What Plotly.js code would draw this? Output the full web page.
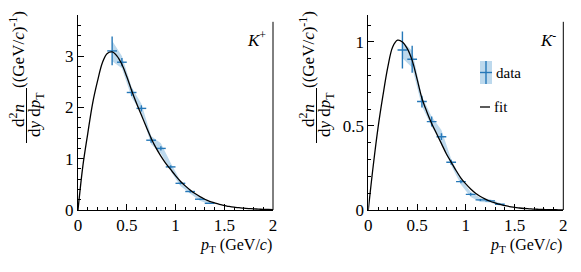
<!DOCTYPE html>
<html>
<head>
<meta charset="utf-8">
<script src="https://cdn.plot.ly/plotly-3.0.1.min.js"></script>
</head>
<body style="margin:0">
<div id="chart" style="width:581px;height:272px"></div>
<script>
// ---- data ----
const ptBins = [0.35, 0.45, 0.55, 0.65, 0.75, 0.85, 0.95, 1.05, 1.15, 1.25, 1.35];
const binHalfWidth = [0.05, 0.05, 0.05, 0.05, 0.05, 0.05, 0.05, 0.05, 0.05, 0.05, 0.05];

const kPlusY    = [3.10, 2.88, 2.29, 1.98, 1.36, 1.20, 0.84, 0.52, 0.36, 0.21, 0.13];
const kPlusStat = [0.28, 0.08, 0.07, 0.06, 0.05, 0.04, 0.03, 0.02, 0.02, 0.01, 0.01];
const kPlusSys  = [0.20, 0.12, 0.10, 0.09, 0.08, 0.10, 0.08, 0.05, 0.04, 0.03, 0.02];

const kMinusY    = [0.952, 0.897, 0.645, 0.526, 0.436, 0.284, 0.169, 0.093, 0.060, 0.054, 0.034];
const kMinusStat = [0.110, 0.080, 0.035, 0.030, 0.020, 0.015, 0.010, 0.008, 0.006, 0.005, 0.004];
const kMinusSys  = [0.050, 0.050, 0.030, 0.030, 0.040, 0.020, 0.018, 0.015, 0.012, 0.010, 0.008];

const fitPt = [0, 0.05, 0.1, 0.15, 0.2, 0.25, 0.3, 0.35, 0.4, 0.45, 0.5, 0.55, 0.6, 0.65, 0.7,
  0.75, 0.8, 0.85, 0.9, 0.95, 1.0, 1.05, 1.1, 1.15, 1.2, 1.25, 1.3, 1.35, 1.4, 1.45, 1.5,
  1.55, 1.6, 1.65, 1.7, 1.75, 1.8, 1.85, 1.9, 1.95, 2.0];
const fitKPlus = [0.0, 0.86, 1.49, 2.08, 2.51, 2.87, 3.05, 3.08, 3.00, 2.84, 2.60, 2.33, 2.08,
  1.85, 1.62, 1.40, 1.21, 1.05, 0.91, 0.79, 0.67, 0.56, 0.47, 0.39, 0.32, 0.26, 0.21, 0.17,
  0.14, 0.11, 0.09, 0.07, 0.055, 0.045, 0.035, 0.028, 0.022, 0.017, 0.013, 0.010, 0.008];
const fitKMinus = [0.0, 0.26, 0.49, 0.68, 0.85, 0.97, 1.01, 1.00, 0.96, 0.89, 0.78, 0.665, 0.585,
  0.515, 0.455, 0.395, 0.335, 0.285, 0.235, 0.19, 0.155, 0.125, 0.10, 0.08, 0.065, 0.052, 0.042,
  0.033, 0.026, 0.020, 0.016, 0.012, 0.009, 0.007, 0.005, 0.004, 0.003, 0.002, 0.002, 0.001, 0.001];

const xTickVals = [0, 0.5, 1, 1.5, 2];
const xTickText = ['0', '0.5', '1', '1.5', '2'];
const yTickValsKp = [0, 1, 2, 3];
const yTickValsKm = [0, 0.5, 1];
const legendLabels = ['data', 'fit'];
const panelLabels = ['<i>K</i><sup>+</sup>', '<i>K</i><sup>-</sup>'];

// ---- styling ----
const BLUE = 'rgb(38,120,184)';
const BAND = 'rgba(90,160,210,0.40)';
const FONT = 'Liberation Serif';

function bandTraces(y, sys, xa, ya) {
  const up = y.map((v, i) => v + sys[i]);
  const lo = y.map((v, i) => v - sys[i]);
  return [
    {x: ptBins, y: lo, xaxis: xa, yaxis: ya, mode: 'lines', line: {width: 0, color: BAND},
     hoverinfo: 'skip', showlegend: false},
    {x: ptBins, y: up, xaxis: xa, yaxis: ya, mode: 'lines', line: {width: 0, color: BAND},
     fill: 'tonexty', fillcolor: BAND, hoverinfo: 'skip', showlegend: false}
  ];
}
function dataTrace(y, stat, xa, ya) {
  return {x: ptBins, y: y, xaxis: xa, yaxis: ya, mode: 'markers',
    marker: {size: 1, color: BLUE},
    error_y: {type: 'data', array: stat, visible: true, color: BLUE, thickness: 1.4, width: 0},
    error_x: {type: 'data', array: binHalfWidth, visible: true, color: BLUE, thickness: 1.4, width: 0},
    showlegend: false};
}
function fitTrace(y, xa, ya) {
  return {x: fitPt, y: y, xaxis: xa, yaxis: ya, mode: 'lines', line: {color: '#000', width: 1.3, shape: 'spline'},
    showlegend: false};
}

const traces = [
  ...bandTraces(kPlusY, kPlusSys, 'x', 'y'),
  dataTrace(kPlusY, kPlusStat, 'x', 'y'),
  fitTrace(fitKPlus, 'x', 'y'),
  ...bandTraces(kMinusY, kMinusSys, 'x2', 'y2'),
  dataTrace(kMinusY, kMinusStat, 'x2', 'y2'),
  fitTrace(fitKMinus, 'x2', 'y2')
];

const W = 581, H = 272;
const yDom = [(H - 210) / H, (H - 15) / H];
function xAxis(dom, anchor) {
  return {domain: dom, anchor: anchor, range: [0, 2], showgrid: false, zeroline: false,
    showline: true, linecolor: '#000', linewidth: 1, mirror: false,
    ticks: 'inside', ticklen: 6, tickcolor: '#000', tickwidth: 1,
    tickvals: xTickVals, ticktext: xTickText,
    tickfont: {family: FONT, size: 17, color: '#000'},
    minor: {ticks: 'inside', ticklen: 3, dtick: 0.1, tickcolor: '#000', showgrid: false}};
}
function yAxis(range, vals, minorD, anchor) {
  return {domain: yDom, anchor: anchor, range: range, showgrid: false, zeroline: false,
    showline: true, linecolor: '#000', linewidth: 1, mirror: false,
    ticks: 'inside', ticklen: 6, tickcolor: '#000', tickwidth: 1,
    tickvals: vals, ticktext: vals.map(String),
    tickfont: {family: FONT, size: 17, color: '#000'},
    minor: {ticks: 'inside', ticklen: 3, dtick: minorD, tickcolor: '#000', showgrid: false}};
}

const xL = 78, xR = 368.3;
const annotations = [];
const shapes = [];
[0, 1].forEach(k => {
  const off = k === 0 ? 0 : 290;
  const xs = k === 0 ? 'x' : 'x2';
  const ys = k === 0 ? 'y' : 'y2';
  shapes.push({type: 'line', xref: xs + ' domain', yref: ys + ' domain', x0: 1, x1: 1, y0: 0, y1: 0.965,
    line: {color: '#000', width: 1}});
  shapes.push({type: 'line', xref: 'paper', yref: 'paper', x0: (26.5 + off) / W, x1: (26.5 + off) / W,
    y0: (H - 88) / H, y1: (H - 143) / H, line: {color: '#000', width: 1}});
  annotations.push({xref: 'paper', yref: 'paper', x: (17 + off) / W, y: (H - 116) / H,
    text: 'd<sup>2</sup><i>n</i>', textangle: -90, showarrow: false,
    xanchor: 'center', yanchor: 'middle', font: {family: FONT, size: 17, color: '#000'}});
  annotations.push({xref: 'paper', yref: 'paper', x: (36 + off) / W, y: (H - 115) / H,
    text: 'd<i>y</i> d<i>p</i><sub>T</sub>', textangle: -90, showarrow: false,
    xanchor: 'center', yanchor: 'middle', font: {family: FONT, size: 17, color: '#000'}});
  annotations.push({xref: 'paper', yref: 'paper', x: (17 + off) / W, y: (H - 50) / H,
    text: '((GeV/<i>c</i>)<sup>-1</sup>)', textangle: -90, showarrow: false,
    xanchor: 'center', yanchor: 'middle', font: {family: FONT, size: 17, color: '#000'}});
  annotations.push({xref: 'paper', yref: 'paper', x: (274 + off) / W, y: (H - 245) / H,
    text: '<i>p</i><sub>T</sub> (GeV/<i>c</i>)', showarrow: false,
    xanchor: 'right', yanchor: 'middle', font: {family: FONT, size: 16, color: '#000'}});
  annotations.push({xref: 'paper', yref: 'paper', x: (268 + off) / W, y: (H - 39) / H,
    text: panelLabels[k], showarrow: false,
    xanchor: 'right', yanchor: 'middle', font: {family: FONT, size: 17, color: '#000'}});
});

shapes.push({type: 'rect', xref: 'paper', yref: 'paper', x0: 480 / W, x1: 492 / W, y0: (H - 61) / H, y1: (H - 84) / H,
  fillcolor: BAND, line: {width: 0}});
shapes.push({type: 'line', xref: 'paper', yref: 'paper', x0: 486 / W, x1: 486 / W, y0: (H - 61) / H, y1: (H - 84) / H,
  line: {color: BLUE, width: 1.4}});
shapes.push({type: 'line', xref: 'paper', yref: 'paper', x0: 480 / W, x1: 492 / W, y0: (H - 72.5) / H, y1: (H - 72.5) / H,
  line: {color: BLUE, width: 1.4}});
shapes.push({type: 'line', xref: 'paper', yref: 'paper', x0: 480 / W, x1: 490 / W, y0: (H - 107) / H, y1: (H - 107) / H,
  line: {color: '#333', width: 1.6}});
annotations.push({xref: 'paper', yref: 'paper', x: 494 / W, y: (H - 73) / H, text: legendLabels[0], showarrow: false,
  xanchor: 'left', yanchor: 'middle', font: {family: FONT, size: 15, color: '#000'}});
annotations.push({xref: 'paper', yref: 'paper', x: 492 / W, y: (H - 107) / H, text: legendLabels[1], showarrow: false,
  xanchor: 'left', yanchor: 'middle', font: {family: FONT, size: 15, color: '#000'}});

const layout = {
  width: W, height: H, margin: {l: 0, r: 0, t: 0, b: 0},
  paper_bgcolor: '#fff', plot_bgcolor: '#fff', showlegend: false,
  xaxis: xAxis([xL / W, 273 / W], 'y'),
  yaxis: yAxis([0, 3.8], yTickValsKp, 0.2, 'x'),
  xaxis2: xAxis([xR / W, 563.3 / W], 'y2'),
  yaxis2: yAxis([0, 1.16], yTickValsKm, 0.1, 'x2'),
  annotations: annotations, shapes: shapes
};
Plotly.newPlot('chart', traces, layout, {staticPlot: true, displayModeBar: false});
</script>
</body>
</html>
